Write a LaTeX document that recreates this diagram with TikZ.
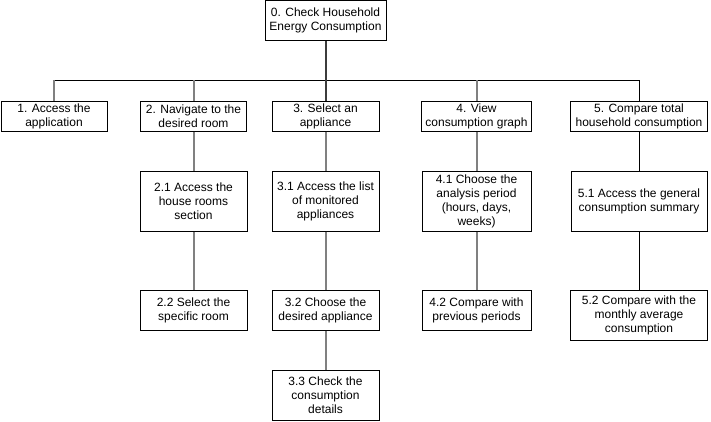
\documentclass[tikz,border=0pt]{standalone}
\usepackage{fontspec}
\setmainfont{Liberation Sans}
\usetikzlibrary{positioning}

\definecolor{linegray}{RGB}{128,128,128}
\definecolor{linedark}{RGB}{60,60,60}

\tikzset{
    box/.style={rectangle, draw, line width=1pt, inner sep=0pt, align=center,
        font=\fontsize{12pt}{14pt}\selectfont},
    grayline/.style={draw=linegray, line width=2pt},
    darkline/.style={draw=linedark, line width=2pt},
    blackline/.style={draw=black, line width=1pt}
}

\begin{document}
\begin{tikzpicture}[x=1pt, y=-1pt]
            \useasboundingbox (0, 0) rectangle (711, 421);

            %root
            \node[box, minimum width=121pt, minimum height=40pt] (0) at (325.5, 20.5) {0. Check Household\\Energy Consumption};

            %first level
            \node[box, minimum width=106pt, minimum height=30pt] (1) at (54, 116) {1. Access the\\application};
            \node[box, minimum width=106pt, minimum height=30pt] (2) at (193.5, 116) {2. Navigate to the\\desired room};
            \node[box, minimum width=107pt, minimum height=30pt] (3) at (325.5, 116) {3. Select an\\appliance};
            \node[box, minimum width=110pt, minimum height=30pt] (4) at (476.5, 116) {4. View\\consumption graph};
            \node[box, minimum width=137pt, minimum height=30pt] (5) at (639, 116) {5. Compare total\\household consumption};

            %second level
            \node[box, minimum width=107pt, minimum height=60pt] (21) at (193.5, 201) {2.1 Access the\\house rooms\\section};
            \node[box, minimum width=107pt, minimum height=60pt] (31) at (325.5, 201) {3.1 Access the list\\of monitored\\appliances};
            \node[box, minimum width=109pt, minimum height=60pt] (41) at (476.5, 201) {4.1 Choose the\\analysis period\\(hours, days,\\weeks)};
            \node[box, minimum width=136pt, minimum height=60pt] (51) at (639, 201) {5.1 Access the general\\consumption summary};

            %third level
            \node[box, minimum width=107pt, minimum height=40pt] (22) at (193.5, 310) {2.2 Select the\\specific room};
            \node[box, minimum width=107pt, minimum height=40pt] (32) at (325.5, 310) {3.2 Choose the\\desired appliance};
            \node[box, minimum width=109pt, minimum height=40pt] (42) at (476.5, 310) {4.2 Compare with\\previous periods};
            \node[box, minimum width=137pt, minimum height=50pt] (52) at (639, 315) {5.2 Compare with the\\monthly average\\consumption};

            %fourth level
            \node[box, minimum width=107pt, minimum height=50pt] (33) at (325.5, 395) {3.3 Check the\\consumption\\details};

            %bar under the root
            \foreach \li in {0,...,5}{
                \coordinate (b\li) at (\li |- 0, 80);
            };
            \draw[blackline] (b1) -- (b5);
            \draw[darkline] (0) -- (b0);

            %connections first level
            \foreach \li in {1, 2, 4}{
                \draw[grayline] (b\li) -- (\li);
            };
            \draw[darkline] (b3) -- (3);
            \draw[blackline] (b5) -- (5);

            %connections lower levels
            \foreach \lo/\lu in {2/21, 21/22, 3/31, 31/32, 32/33, 4/41, 41/42}{
                \draw[grayline] (\lo) -- (\lu);
            };
            \draw[blackline] (5) -- (51);
            \draw[blackline] (51) -- (52);
        \end{tikzpicture}
\end{document}
